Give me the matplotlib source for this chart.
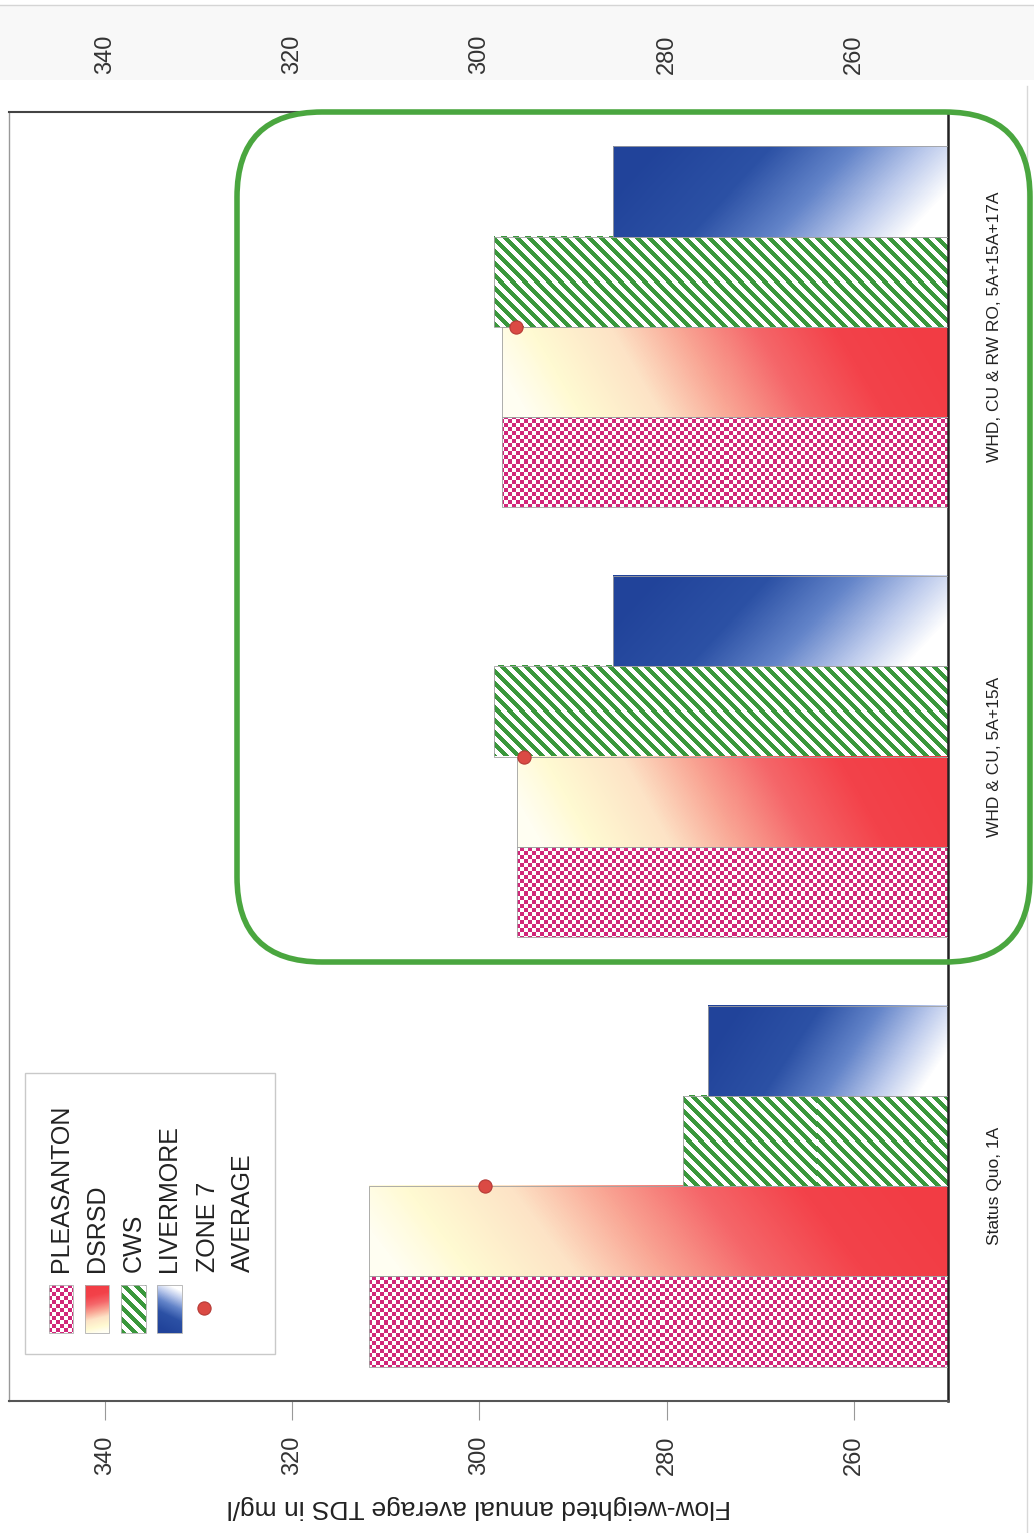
import numpy as np
import matplotlib
matplotlib.use('Agg')
import matplotlib.pyplot as plt
from matplotlib.colors import LinearSegmentedColormap, to_rgb
from matplotlib.patches import Rectangle, FancyBboxPatch

plt.rcParams['font.family'] = ['Liberation Sans', 'DejaVu Sans']

# flow-weighted annual average TDS (mg/l) per scenario
scenarios = ['Status Quo, 1A', 'WHD & CU, 5A+15A', 'WHD, CU & RW RO, 5A+15A+17A']
pleasanton = [311.8, 296.0, 297.6]
dsrsd = [311.8, 296.0, 297.6]
cws = [278.3, 298.4, 298.4]
livermore = [275.6, 285.7, 285.7]
zone7_avg = [299.4, 295.2, 296.1]
series_names = ['PLEASANTON', 'DSRSD', 'CWS', 'LIVERMORE']
ticks = [260, 280, 300, 320, 340]
BASE = 250

W, H = 1034, 1533
fig = plt.figure(figsize=(W / 100, H / 100), dpi=100)
fig.patch.set_facecolor('white')

red_map = LinearSegmentedColormap.from_list('dsrsd', [
    (0.0, '#fffef2'), (0.12, '#fffad2'), (0.3, '#fde3c6'), (0.46, '#f9a493'),
    (0.62, '#f5676a'), (0.8, '#f3424a'), (1.0, '#f23c44')])
blue_map = LinearSegmentedColormap.from_list('livermore', [
    (0.0, '#21439a'), (0.35, '#2c51a5'), (0.6, '#6384c9'), (0.82, '#bccaec'),
    (1.0, '#ffffff')])
MAGENTA = np.array(to_rgb('#d1277a'))
GREEN = np.array(to_rgb('#3a973c'))
WHITE = np.ones(3)


def texture(kind, w, h, x0=0.0, y0=0.0, upright=False):
    """RGB fill of w x h pixels; x0, y0 = screen position of the top-left corner."""
    cols = np.arange(w) + 0.5
    rows = np.arange(h) + 0.5
    X, Y = np.meshgrid(cols + x0, rows + y0)
    u, v = np.meshgrid(cols / w, rows / h)
    if kind == 'check':
        on = (np.floor(X / 4) + np.floor(Y / 4)) % 2 == 0
        return np.where(on[..., None], MAGENTA, WHITE)
    if kind == 'stripe':
        on = (X - Y) % 12 < 6
        return np.where(on[..., None], GREEN, WHITE)
    if upright:
        u, v = 1 - v, u
    if kind == 'red':
        t = u - 0.12 * (v - 0.5)
        return red_map(np.clip(t, 0, 1))[..., :3]
    t = u + 0.25 * (v - 0.5)
    return blue_map(np.clip(t, 0, 1))[..., :3]


# background layer: scanned page strip and page edge
bg = fig.add_axes([0, 0, 1, 1])
bg.set_xlim(0, W)
bg.set_ylim(H, 0)
bg.axis('off')
bg.set_zorder(0)
bg.add_patch(Rectangle((0, 6), W, 74, fc='#f8f8f8', ec='none'))
bg.plot([0, W], [5, 5], color='#d5d5d5', lw=1)
bg.plot([1027, 1027], [86, H], color='#d8d8d8', lw=1)

ax = fig.add_axes([9 / W, (H - 1401) / H, (948 - 9) / W, (1401 - 112) / H])
ax.set_zorder(1)
ax.set_xlim(350.2, BASE)
ax.set_ylim(-0.5, 2.5)

h = 0.21
offsets = np.array([-1.5, -0.5, 0.5, 1.5]) * h
ypos = np.arange(len(scenarios))
kinds = ['check', 'red', 'stripe', 'blue']
for vals, kind, off in zip([pleasanton, dsrsd, cws, livermore], kinds, offsets):
    bars = ax.barh(ypos + off, np.array(vals) - BASE, height=h, left=BASE,
                   facecolor='none', edgecolor='#a0a0a0', linewidth=0.6, zorder=3)
    for bar in bars:
        x0, y0 = bar.get_x(), bar.get_y()
        x1, y1 = x0 + bar.get_width(), y0 + bar.get_height()
        (pl, pt), (pr, pb) = ax.transData.transform([(x1, y1), (x0, y0)])
        img = texture(kind, int(round(pr - pl)), int(round(pt - pb)), pl, H - pt)
        ax.imshow(img, extent=(x1, x0, y0, y1), origin='upper', aspect='auto',
                  interpolation='nearest', zorder=2)

ax.plot(zone7_avg, ypos, 'o', ms=9.5, color='#db4a44', mec='#b53a36', mew=0.8,
        zorder=5, clip_on=False)

ax.set_xlim(350.2, BASE)
ax.set_ylim(-0.5, 2.5)

ax.spines['bottom'].set(color='#555555', linewidth=1.5)
ax.spines['top'].set(color='#444444', linewidth=1.5)
ax.spines['left'].set(color='#999999', linewidth=1)
ax.spines['right'].set(color='#222222', linewidth=1.8)

ax.set_xticks(ticks)
ax.tick_params(axis='x', direction='out', length=14, width=0.8, color='#999999',
               labelsize=17, labelrotation=90, pad=11, labelcolor='#333333')
ax.set_yticks(ypos, scenarios)
ax.yaxis.tick_right()
ax.tick_params(axis='y', length=0, labelsize=12.5, labelrotation=90, pad=28,
               labelcolor='#222222')
for lbl in ax.get_yticklabels():
    lbl.set_va('center')

ax.set_xlabel('Flow-weighted annual average TDS in mg/l', rotation=180,
              fontsize=19, labelpad=14, color='#222222')

top = ax.secondary_xaxis('top')
top.set_xticks(ticks)
top.tick_params(length=0, labelsize=17, labelrotation=90, pad=27, labelcolor='#333333')
top.spines['top'].set_visible(False)

# foreground layer: highlight box and legend
fg = fig.add_axes([0, 0, 1, 1])
fg.set_xlim(0, W)
fg.set_ylim(H, 0)
fg.axis('off')
fg.set_zorder(2)

fg.add_patch(FancyBboxPatch((237, 112), 793, 850,
                            boxstyle='round,pad=0,rounding_size=85',
                            fc='none', ec='#4aa63f', lw=4))

fg.add_patch(Rectangle((25, 1073), 250, 281, fc='white', ec='#c9c9c9', lw=1))
sw_x = [(49, 73), (85, 109), (121, 146), (157, 182)]
sw_top, sw_bot = 1285, 1333
for (xa, xb), kind, name in zip(sw_x, kinds, series_names):
    img = texture(kind, xb - xa, sw_bot - sw_top, xa, sw_top, upright=True)
    fg.imshow(img, extent=(xa, xb, sw_bot, sw_top), origin='upper', aspect='auto',
              interpolation='nearest', zorder=3)
    fg.add_patch(Rectangle((xa, sw_top), xb - xa, sw_bot - sw_top, fc='none',
                           ec='#b0b0b0', lw=0.6, zorder=4))
    fg.text((xa + xb) / 2, 1272, name, rotation=90, ha='center', va='bottom',
            fontsize=18, color='#222222')
fg.plot([204], [1308], 'o', ms=9.5, color='#db4a44', mec='#b53a36', mew=0.8)
fg.text(208, 1272, 'ZONE 7', rotation=90, ha='center', va='bottom', fontsize=18,
        color='#222222')
fg.text(243, 1272, 'AVERAGE', rotation=90, ha='center', va='bottom', fontsize=18,
        color='#222222')
fg.set_xlim(0, W)
fg.set_ylim(H, 0)

fig.savefig('out.png', dpi=100)
